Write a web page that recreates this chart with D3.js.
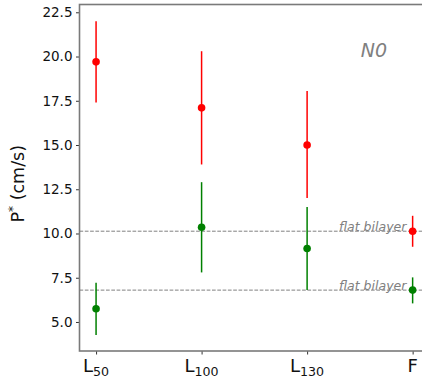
<!DOCTYPE html>
<html>
<head>
<meta charset="utf-8">
<script src="https://cdn.jsdelivr.net/npm/d3@7"></script>
<style>
  html, body { margin: 0; padding: 0; background: #fff; }
  svg { display: block; font-family: "DejaVu Sans", sans-serif; }
</style>
</head>
<body>
<svg id="chart" width="422" height="379"></svg>
<script>
// Membrane types along the x axis (base letter + subscript)
const categories = ["L", "L", "L", "F"];
const subscripts = ["50", "100", "130", ""];

// Permeability P* (cm/s): mean with lower/upper error bounds
const redMean  = [19.7, 17.1, 15.0, 10.13];
const redLow   = [17.4, 13.9, 12.0, 9.25];
const redHigh  = [22.0, 20.3, 18.05, 11.0];

const greenMean = [5.75, 10.35, 9.15, 6.8];
const greenLow  = [4.27, 7.8, 6.8, 6.05];
const greenHigh = [7.22, 12.9, 11.5, 7.52];

// Flat-bilayer reference levels
const refLevels = [10.13, 6.8];
const refLabel = "flat bilayer";

const yTicks = [5.0, 7.5, 10.0, 12.5, 15.0, 17.5, 20.0, 22.5];
const panelLabel = "N0";

const svg = d3.select("#chart");
const plotLeft = 79.5, plotRight = 429.2, plotTop = 4.5, plotBottom = 351;

const x = d3.scaleLinear().domain([-0.157, 3.157]).range([plotLeft, plotRight]);
const y = d3.scaleLinear().domain([3.36, 22.94]).range([plotBottom, plotTop]);

// Reference dashed lines with labels
refLevels.forEach(v => {
  svg.append("line")
    .attr("x1", plotLeft).attr("x2", plotRight)
    .attr("y1", y(v)).attr("y2", y(v))
    .attr("stroke", "#808080").attr("stroke-width", 1)
    .attr("stroke-dasharray", "3.7,1.6");
  svg.append("text")
    .attr("x", 339).attr("y", y(v))
    .attr("font-size", 12.5).attr("font-style", "italic")
    .attr("fill", "#808080")
    .text(refLabel);
});

// Error bars and markers
function series(mean, lo, hi, color) {
  const g = svg.append("g");
  g.selectAll("line").data(mean).join("line")
    .attr("x1", (d, i) => x(i)).attr("x2", (d, i) => x(i))
    .attr("y1", (d, i) => y(lo[i])).attr("y2", (d, i) => y(hi[i]))
    .attr("stroke", color).attr("stroke-width", 1.5);
  g.selectAll("circle").data(mean).join("circle")
    .attr("cx", (d, i) => x(i)).attr("cy", d => y(d))
    .attr("r", 3.8).attr("fill", color);
}
series(redMean, redLow, redHigh, "#ff0000");
series(greenMean, greenLow, greenHigh, "#008000");

// Axes
const yAxis = d3.axisLeft(y).tickValues(yTicks).tickFormat(d3.format(".1f"))
  .tickSize(3.5).tickPadding(3.5);
const gy = svg.append("g").attr("transform", `translate(${plotLeft},0)`).call(yAxis);
gy.select(".domain").remove();
gy.selectAll(".tick line").attr("stroke", "#333");
gy.selectAll(".tick text").attr("font-size", 13.5).attr("fill", "#111")
  .attr("font-family", "DejaVu Sans");

const xAxis = d3.axisBottom(x).tickValues(d3.range(categories.length))
  .tickSize(3.5).tickFormat("");
const gx = svg.append("g").attr("transform", `translate(0,${plotBottom})`).call(xAxis);
gx.select(".domain").remove();
gx.selectAll(".tick line").attr("stroke", "#333");

// Category labels with subscripts
categories.forEach((c, i) => {
  const t = svg.append("text")
    .attr("y", 372).attr("fill", "#111")
    .attr("font-size", 18);
  t.append("tspan").text(c);
  if (subscripts[i]) {
    t.append("tspan").attr("font-size", 12.6).attr("dy", 3.5).text(subscripts[i]);
  }
  const w = t.node().getComputedTextLength();
  t.attr("x", x(i) - w / 2);
});

// Frame
svg.append("rect")
  .attr("x", plotLeft).attr("y", plotTop)
  .attr("width", plotRight - plotLeft).attr("height", plotBottom - plotTop)
  .attr("fill", "none").attr("stroke", "#7a7a7a").attr("stroke-width", 1.6);

// Panel tag
svg.append("text")
  .attr("x", 374).attr("y", 56.5).attr("text-anchor", "middle")
  .attr("font-size", 19).attr("font-style", "italic").attr("fill", "#808080")
  .text(panelLabel);

// Y axis title
const yt = svg.append("text")
  .attr("transform", `translate(24,${(plotTop + plotBottom) / 2 + 6}) rotate(-90)`)
  .attr("text-anchor", "middle").attr("font-size", 17.5).attr("fill", "#111");
yt.append("tspan").text("P");
yt.append("tspan").attr("font-size", 12).attr("dy", -7).text("*");
yt.append("tspan").attr("dy", 7).text(" (cm/s)");
</script>
</body>
</html>
